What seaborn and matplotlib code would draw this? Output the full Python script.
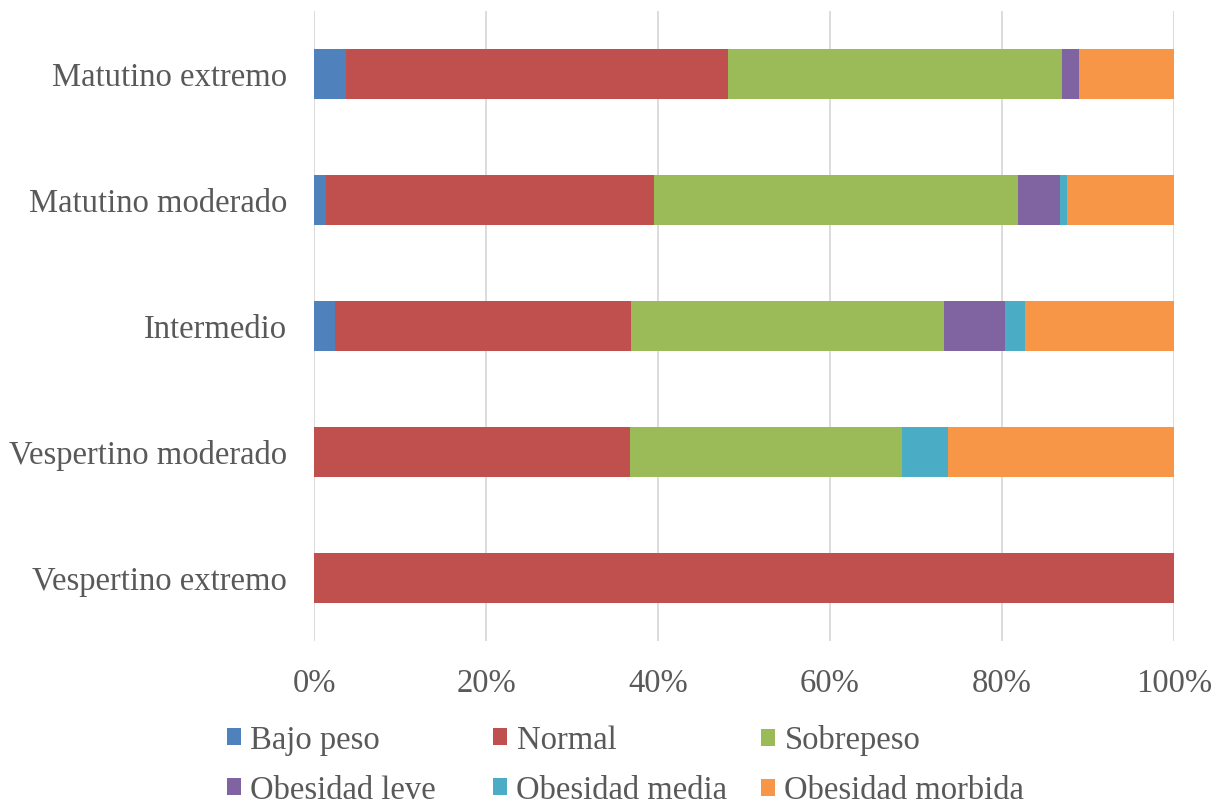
import numpy as np
import pandas as pd
import matplotlib
matplotlib.use("Agg")
import matplotlib.pyplot as plt
from matplotlib.patches import Patch
import seaborn as sns

# Chronotype groups (top to bottom) and BMI category shares in percent
groups = ["Matutino extremo", "Matutino moderado", "Intermedio",
          "Vespertino moderado", "Vespertino extremo"]
bajo_peso = [3.7, 1.4, 2.4, 0.0, 0.0]
normal = [44.4, 38.1, 34.5, 36.8, 100.0]
sobrepeso = [38.9, 42.4, 36.3, 31.6, 0.0]
obesidad_leve = [1.9, 4.9, 7.1, 0.0, 0.0]
obesidad_media = [0.0, 0.7, 2.4, 5.3, 0.0]
obesidad_morbida = [11.1, 12.5, 17.3, 26.3, 0.0]

series_names = ["Bajo peso", "Normal", "Sobrepeso",
                "Obesidad leve", "Obesidad media", "Obesidad morbida"]
series_values = [bajo_peso, normal, sobrepeso,
                 obesidad_leve, obesidad_media, obesidad_morbida]
colors = ["#4F81BD", "#C0504D", "#9BBB59", "#8064A2", "#4BACC6", "#F79646"]

df = pd.DataFrame({name: vals for name, vals in zip(series_names, series_values)})
df["grupo"] = groups
cum = df[series_names].cumsum(axis=1)

sns.set_theme(style="white")
plt.rcParams["font.family"] = ["Liberation Serif", "DejaVu Serif"]
text_color = "#595959"
fsize = 23.5

fig = plt.figure(figsize=(12.2, 8.05), dpi=100)
ax = fig.add_axes([314 / 1220, 1 - 641 / 805, 860 / 1220, 630 / 805])

# Stacked bars: draw cumulative totals from the last series back to the first
for name, color in reversed(list(zip(series_names, colors))):
    sns.barplot(x=cum[name], y=df["grupo"], order=groups, orient="h",
                color=color, width=0.4, linewidth=0, saturation=1, ax=ax)

ax.set_xlim(0, 100)
ax.set_ylim(4.5, -0.5)
ax.set_xticks(np.arange(0, 101, 20))
ax.set_xticklabels([f"{v}%" for v in range(0, 101, 20)])
ax.xaxis.grid(True, color="#D9D9D9", linewidth=1.3)
ax.set_axisbelow(True)
ax.set_xlabel("")
ax.set_ylabel("")
for s in ax.spines.values():
    s.set_visible(False)
ax.tick_params(axis="both", length=0, labelsize=fsize, colors=text_color)
ax.tick_params(axis="y", pad=19.5)
ax.tick_params(axis="x", pad=20)

# Legend laid out as three columns of two entries each
col_x = [227, 493, 761]
for c in range(3):
    handles = []
    for r in range(2):
        i = r * 3 + c
        handles.append(Patch(facecolor=colors[i], edgecolor="none", label=series_names[i]))
    leg = fig.legend(handles=handles, loc="upper left",
                     bbox_to_anchor=(col_x[c] / 1220, 1 - 725 / 805),
                     frameon=False, fontsize=fsize, handlelength=0.42, handleheight=0.42,
                     handletextpad=0.3, labelspacing=0.6, borderpad=0, borderaxespad=0)
    for t in leg.get_texts():
        t.set_color(text_color)

fig.savefig("out.png", dpi=100)
